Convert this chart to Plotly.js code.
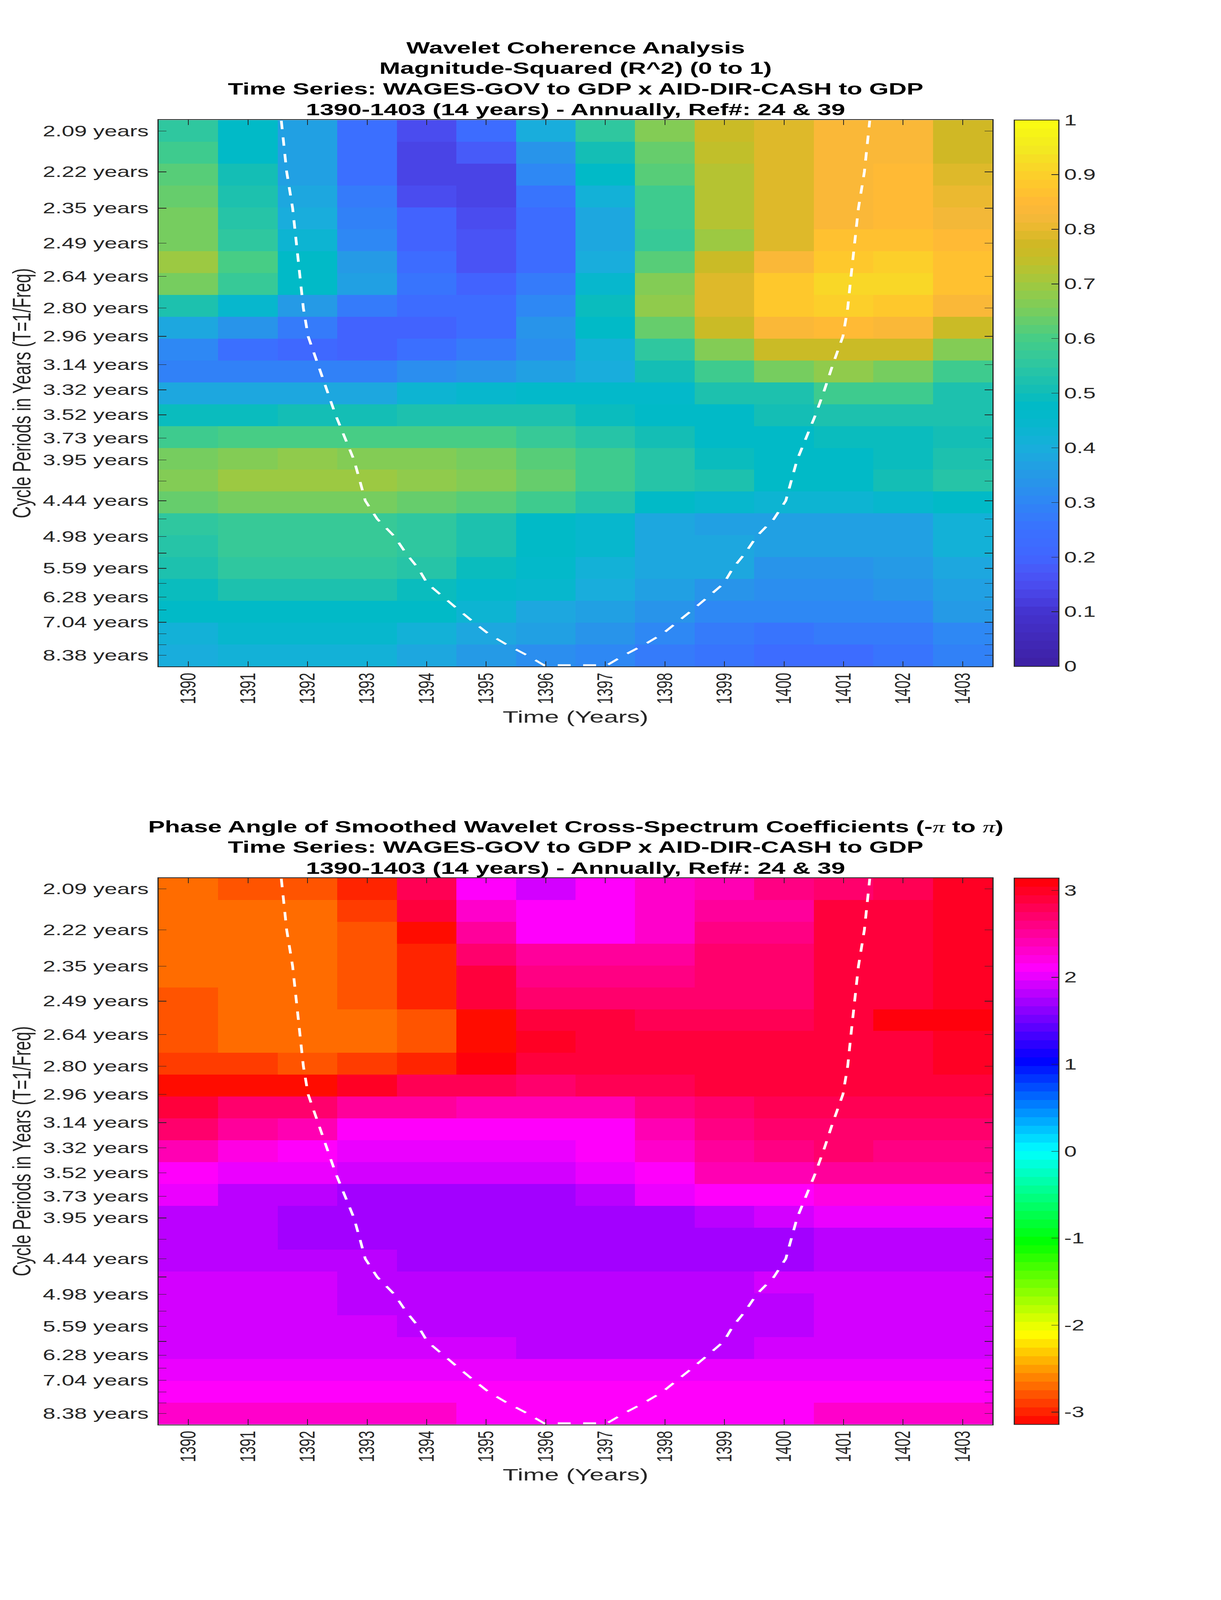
<!DOCTYPE html>
<html>
<head>
<meta charset="utf-8">
<script src="https://cdn.plot.ly/plotly-3.0.1.min.js"></script>
<style>body { margin: 0; background: #fff; overflow: hidden; } #chart { transform-origin: 0 0; }</style>
</head>
<body>
<div id="chart"></div>
<script>
const years = [1390, 1391, 1392, 1393, 1394, 1395, 1396, 1397, 1398, 1399, 1400, 1401, 1402, 1403];

// cycle periods on the y ticks, the axis itself is linear in frequency
const periods = [2.09, 2.22, 2.35, 2.49, 2.64, 2.80, 2.96, 3.14, 3.32, 3.52, 3.73, 3.95, 4.19, 4.44, 4.70, 4.98, 5.28, 5.59, 5.93, 6.28, 6.65, 7.04, 7.46, 7.90, 8.38];
const periodLabels = ['2.09 years', '2.22 years', '2.35 years', '2.49 years', '2.64 years', '2.80 years', '2.96 years', '3.14 years', '3.32 years', '3.52 years', '3.73 years', '3.95 years', '', '4.44 years', '', '4.98 years', '', '5.59 years', '', '6.28 years', '', '7.04 years', '', '', '8.38 years'];

// top row first
const coherence = [
  [.56, .47, .36, .24, .15, .23, .40, .55, .67, .75, .79, .83, .83, .77],
  [.58, .48, .36, .24, .14, .18, .34, .51, .64, .74, .79, .83, .83, .78],
  [.61, .50, .37, .24, .14, .135, .30, .47, .62, .72, .79, .83, .85, .79],
  [.63, .53, .39, .27, .15, .135, .25, .42, .58, .72, .79, .83, .85, .81],
  [.65, .54, .40, .29, .19, .155, .22, .39, .58, .72, .79, .83, .85, .82],
  [.65, .55, .43, .31, .20, .17, .22, .38, .57, .70, .79, .86, .86, .855],
  [.69, .60, .48, .35, .22, .17, .22, .40, .61, .75, .83, .89, .90, .87],
  [.65, .57, .47, .36, .26, .20, .28, .45, .67, .79, .88, .92, .92, .87],
  [.52, .44, .35, .28, .23, .23, .31, .49, .68, .79, .89, .90, .89, .83],
  [.39, .33, .27, .20, .20, .23, .33, .48, .63, .76, .83, .85, .83, .76],
  [.30, .24, .21, .20, .24, .28, .32, .42, .55, .66, .75, .75, .75, .66],
  [.29, .29, .29, .29, .32, .34, .37, .40, .50, .58, .65, .68, .65, .58],
  [.39, .39, .39, .39, .43, .45, .46, .46, .46, .52, .53, .58, .58, .52],
  [.49, .49, .50, .50, .52, .52, .52, .49, .47, .47, .50, .52, .52, .52],
  [.58, .60, .60, .60, .60, .60, .57, .54, .50, .47, .47, .49, .49, .51],
  [.65, .67, .68, .66, .66, .65, .62, .58, .54, .49, .48, .47, .49, .52],
  [.67, .69, .70, .70, .68, .66, .63, .58, .54, .52, .47, .47, .50, .54],
  [.63, .65, .65, .65, .63, .61, .58, .54, .48, .45, .43, .43, .45, .48],
  [.55, .57, .57, .57, .55, .52, .48, .44, .38, .36, .36, .36, .37, .42],
  [.54, .57, .57, .57, .55, .52, .48, .44, .39, .38, .36, .36, .37, .41],
  [.52, .56, .56, .56, .54, .49, .46, .41, .39, .38, .34, .34, .35, .39],
  [.49, .52, .52, .52, .49, .46, .45, .40, .37, .34, .32, .32, .33, .37],
  [.47, .48, .48, .48, .47, .43, .39, .36, .33, .31, .31, .30, .30, .35],
  [.41, .45, .45, .45, .41, .39, .37, .33, .30, .28, .26, .27, .28, .31],
  [.40, .42, .42, .41, .39, .35, .32, .30, .27, .25, .23, .23, .25, .29]
];

const phase = [
  [-2.72, -2.83, -2.83, -3.03, 2.80, 2.09, 1.92, 2.09, 2.28, 2.42, 2.60, 2.74, 2.82, 3.00],
  [-2.72, -2.72, -2.72, -2.93, 2.92, 2.35, 2.09, 2.09, 2.35, 2.48, 2.55, 2.88, 2.92, 3.00],
  [-2.72, -2.72, -2.72, -2.83, -3.13, 2.55, 2.09, 2.09, 2.28, 2.60, 2.62, 2.88, 2.92, 3.00],
  [-2.72, -2.72, -2.72, -2.83, -3.03, 2.74, 2.48, 2.48, 2.50, 2.68, 2.68, 2.88, 2.92, 3.00],
  [-2.72, -2.72, -2.72, -2.83, -3.03, 2.88, 2.60, 2.60, 2.62, 2.74, 2.74, 2.88, 2.92, 3.00],
  [-2.83, -2.72, -2.72, -2.83, -3.03, 2.88, 2.72, 2.68, 2.68, 2.74, 2.74, 2.88, 2.92, 3.00],
  [-2.83, -2.72, -2.72, -2.72, -2.83, -3.13, 2.88, 2.86, 2.84, 2.84, 2.84, 2.90, 3.06, 3.06],
  [-2.83, -2.72, -2.72, -2.72, -2.83, -3.13, 3.00, 2.94, 2.94, 2.94, 2.88, 2.90, 2.92, 3.03],
  [-2.93, -2.93, -2.83, -2.93, -3.03, 3.08, 2.90, 2.90, 2.90, 2.94, 2.92, 2.92, 2.92, 3.03],
  [-3.13, -3.13, -3.13, 2.97, 2.82, 2.78, 2.74, 2.78, 2.82, 2.88, 2.92, 2.92, 2.92, 2.92],
  [2.88, 2.72, 2.72, 2.48, 2.46, 2.40, 2.42, 2.42, 2.60, 2.66, 2.78, 2.84, 2.84, 2.84],
  [2.68, 2.50, 2.42, 2.14, 2.10, 2.09, 2.10, 2.12, 2.42, 2.60, 2.66, 2.74, 2.74, 2.74],
  [2.42, 2.17, 2.10, 1.97, 1.97, 1.97, 1.97, 2.09, 2.28, 2.50, 2.62, 2.68, 2.62, 2.60],
  [2.09, 1.97, 1.97, 1.88, 1.88, 1.88, 1.88, 1.97, 2.09, 2.40, 2.45, 2.50, 2.50, 2.50],
  [1.97, 1.86, 1.86, 1.76, 1.76, 1.76, 1.76, 1.84, 1.97, 2.14, 2.14, 2.20, 2.20, 2.20],
  [1.84, 1.84, 1.76, 1.76, 1.76, 1.76, 1.76, 1.76, 1.76, 1.82, 1.92, 1.97, 1.97, 1.97],
  [1.84, 1.84, 1.76, 1.76, 1.76, 1.76, 1.76, 1.76, 1.76, 1.76, 1.76, 1.86, 1.86, 1.86],
  [1.84, 1.84, 1.84, 1.84, 1.74, 1.74, 1.74, 1.74, 1.74, 1.74, 1.74, 1.86, 1.86, 1.86],
  [1.92, 1.92, 1.92, 1.85, 1.85, 1.85, 1.85, 1.85, 1.85, 1.85, 1.92, 1.92, 1.92, 1.92],
  [1.92, 1.92, 1.92, 1.85, 1.85, 1.85, 1.85, 1.85, 1.85, 1.85, 1.85, 1.92, 1.92, 1.92],
  [1.92, 1.92, 1.92, 1.92, 1.85, 1.85, 1.85, 1.85, 1.85, 1.85, 1.85, 1.92, 1.92, 1.92],
  [1.94, 1.94, 1.94, 1.94, 1.94, 1.94, 1.85, 1.85, 1.85, 1.85, 1.94, 1.94, 1.94, 1.94],
  [2.06, 2.06, 1.97, 1.97, 1.97, 1.97, 1.97, 1.97, 1.97, 1.97, 1.97, 1.97, 2.06, 2.06],
  [2.09, 2.09, 2.09, 2.09, 2.09, 2.09, 2.09, 2.09, 2.09, 2.09, 2.09, 2.09, 2.09, 2.12],
  [2.30, 2.30, 2.30, 2.30, 2.30, 2.14, 2.14, 2.14, 2.14, 2.14, 2.14, 2.27, 2.27, 2.27]
];

// cone of influence, period and year of each vertex
const coiPeriods = [2.06, 2.09, 2.22, 2.35, 2.49, 2.64, 2.80, 2.96, 3.14, 3.32, 3.52, 3.73, 3.95, 4.19, 4.44, 4.70, 4.98, 5.28, 5.59, 5.93, 6.28, 6.65, 7.04, 7.46, 7.90, 8.38, 8.88,
  8.88, 8.38, 7.90, 7.46, 7.04, 6.65, 6.28, 5.93, 5.59, 5.28, 4.98, 4.70, 4.44, 4.19, 3.95, 3.73, 3.52, 3.32, 3.14, 2.96, 2.80, 2.64, 2.49, 2.35, 2.22, 2.09, 2.06];
const coiYears = [1391.56, 1391.58, 1391.65, 1391.75, 1391.81, 1391.875, 1391.93, 1392.01, 1392.18, 1392.32, 1392.47, 1392.63, 1392.78, 1392.88, 1392.97, 1393.17, 1393.46, 1393.65, 1393.86, 1394.01, 1394.28, 1394.54, 1394.79, 1395.04, 1395.35, 1395.69, 1395.97,
  1397.03, 1397.31, 1397.65, 1397.96, 1398.21, 1398.46, 1398.72, 1398.99, 1399.14, 1399.35, 1399.54, 1399.83, 1400.03, 1400.12, 1400.22, 1400.37, 1400.53, 1400.68, 1400.82, 1400.99, 1401.07, 1401.125, 1401.19, 1401.25, 1401.35, 1401.42, 1401.44];

const piSym = '<span style="font-family:\'Liberation Serif\';font-style:italic;font-weight:normal">π</span>';
const titleLines1 = ['Wavelet Coherence Analysis', 'Magnitude-Squared (R^2) (0 to 1)', 'Time Series: WAGES-GOV to GDP x AID-DIR-CASH to GDP', '1390-1403 (14 years) - Annually, Ref#: 24 &amp; 39'];
const titleLines2 = ['Phase Angle of Smoothed Wavelet Cross-Spectrum Coefficients (-' + piSym + ' to ' + piSym + ')', 'Time Series: WAGES-GOV to GDP x AID-DIR-CASH to GDP', '1390-1403 (14 years) - Annually, Ref#: 24 &amp; 39'];

const W = 3125, H = 6252;
const plotLeft = 406, plotRight = 2540, plotHeight = 2135, barLeft = 2596, barWidth = 114;
const top1 = 469, top2 = 3431;
const freqTop = 0.48594, freqBottom = 0.11178;
const textColor = '#262626', fontName = '"Liberation Sans", Arial, sans-serif';

const rowFreq = periods.map((p, i) => freqTop - (i + 0.5) * (freqTop - freqBottom) / periods.length);
const tickFreq = periods.map(p => 1 / p);
const coiFreq = coiPeriods.map(p => 1 / p);

// colour stops
const coherenceStops = [
  [0, '#3e1fa3'], [.1, '#4433cf'], [.125, '#4840e2'], [.15, '#4a4df0'], [.175, '#4858f8'], [.2, '#4166ff'], [.25, '#3a71ff'], [.3, '#2f86f5'], [.35, '#2599e6'],
  [.4, '#19aedc'], [.45, '#05b8cb'], [.475, '#00bac8'], [.5, '#0fbdb9'], [.55, '#2dc6a2'], [.6, '#45cd86'],
  [.65, '#78cd5e'], [.7, '#a0c93f'], [.75, '#c7bd26'], [.775, '#d1b825'], [.8, '#e8b92e'], [.825, '#f6b83a'],
  [.85, '#ffb936'], [.875, '#ffc42d'], [.9, '#fcd02a'], [.95, '#f2ea20'], [1, '#fafd10']
];

function hexToRgb(hex) {
  return [1, 3, 5].map(i => parseInt(hex.slice(i, i + 2), 16));
}

function stopColor(t) {
  for (var i = 1; i < coherenceStops.length; i++) {
    if (t <= coherenceStops[i][0]) {
      var a = coherenceStops[i - 1], b = coherenceStops[i];
      var f = (t - a[0]) / (b[0] - a[0]);
      var ca = hexToRgb(a[1]), cb = hexToRgb(b[1]);
      return 'rgb(' + ca.map((v, j) => Math.round(v + (cb[j] - v) * f)).join(',') + ')';
    }
  }
}

function hsvColor(t) {
  var h = t * 6, x = Math.round(255 * (1 - Math.abs(h % 2 - 1)));
  var rgb = [[255, x, 0], [x, 255, 0], [0, 255, x], [0, x, 255], [x, 0, 255], [255, 0, x]][Math.floor(h) % 6];
  return 'rgb(' + rgb.join(',') + ')';
}

// both colormaps have 64 flat levels
function stepped(colorFn) {
  var scale = [];
  for (var k = 0; k < 64; k++) {
    var c = colorFn((k + 0.5) / 64);
    scale.push([k / 64, c], [(k + 1) / 64, c]);
  }
  return scale;
}

function colorbar(top, extra) {
  return Object.assign({
    x: barLeft / W, xanchor: 'left', xpad: 0, ypad: 0,
    y: 1 - top / H, yanchor: 'top',
    len: plotHeight, lenmode: 'pixels', thickness: barWidth, thicknessmode: 'pixels',
    outlinecolor: textColor, outlinewidth: 3, ticks: 'inside', ticklen: 20, tickwidth: 2, tickcolor: textColor,
    tickfont: { family: fontName, size: 58, color: textColor }
  }, extra);
}

function heat(z, xa, ya, zmin, zmax, scale, cb) {
  return { type: 'heatmap', x: years, y: rowFreq, z: z, xaxis: xa, yaxis: ya, zmin: zmin, zmax: zmax, colorscale: scale, colorbar: cb, hoverinfo: 'skip' };
}

function coi(xa, ya) {
  return { type: 'scatter', mode: 'lines', x: coiYears, y: coiFreq, xaxis: xa, yaxis: ya, showlegend: false, hoverinfo: 'skip',
    line: { color: '#fff', width: 7, dash: '33px,32px' } };
}

function xAxis(anchor) {
  return { anchor: anchor, domain: [plotLeft / W, plotRight / W], range: [1389.5, 1403.5], tickmode: 'array', tickvals: years, ticktext: years.map(String),
    tickangle: -90, ticks: 'inside', ticklen: 20, tickwidth: 2, tickcolor: textColor, ticklabelstandoff: 0, mirror: 'allticks', showline: true, linecolor: textColor, linewidth: 3, showgrid: false, zeroline: false,
    tickfont: { family: fontName, size: 55, color: textColor },
    title: { text: 'Time (Years)', font: { family: fontName, size: 66, color: textColor }, standoff: 27 } };
}

function yAxis(anchor, top) {
  return { anchor: anchor, domain: [1 - (top + plotHeight) / H, 1 - top / H], range: [freqBottom, freqTop], tickmode: 'array', tickvals: tickFreq, ticktext: periodLabels,
    ticks: 'inside', ticklen: 20, tickwidth: 2, tickcolor: textColor, ticklabelstandoff: 11, mirror: 'allticks', showline: true, linecolor: textColor, linewidth: 3, showgrid: false, zeroline: false,
    tickfont: { family: fontName, size: 58, color: textColor },
    title: { text: 'Cycle Periods in Years (T=1/Freq)', font: { family: fontName, size: 65, color: textColor }, standoff: 10 } };
}

function titleNote(text, centerPx) {
  return { text: '<b>' + text + '</b>', xref: 'paper', yref: 'paper', x: (plotLeft + plotRight) / 2 / W, y: 1 - centerPx / H, xanchor: 'center', yanchor: 'middle', showarrow: false, align: 'center',
    font: { family: fontName, size: 64, color: '#000' } };
}

const data = [
  heat(coherence, 'x', 'y', 0, 1, stepped(stopColor), colorbar(top1, { tickmode: 'array', tickvals: [0, .1, .2, .3, .4, .5, .6, .7, .8, .9, 1], ticktext: ['0', '0.1', '0.2', '0.3', '0.4', '0.5', '0.6', '0.7', '0.8', '0.9', '1'] })),
  coi('x', 'y'),
  heat(phase, 'x2', 'y2', -Math.PI, Math.PI, stepped(hsvColor), colorbar(top2, { tickmode: 'array', tickvals: [-3, -2, -1, 0, 1, 2, 3], ticktext: ['-3', '-2', '-1', '0', '1', '2', '3'] })),
  coi('x2', 'y2')
];

const title1Centers = [187, 267, 347, 428];
const title2Centers = [3230, 3310, 3392];

const layout = {
  width: W, height: H, margin: { l: 0, r: 0, t: 0, b: 0 }, paper_bgcolor: '#fff', plot_bgcolor: '#fff', showlegend: false,
  xaxis: xAxis('y'), yaxis: yAxis('x', top1),
  xaxis2: xAxis('y2'), yaxis2: yAxis('x2', top2),
  annotations: titleLines1.map((t, i) => titleNote(t, title1Centers[i])).concat(titleLines2.map((t, i) => titleNote(t, title2Centers[i])))
};

window.addEventListener('load', (event) => {
  Plotly.newPlot('chart', data, layout, { displayModeBar: false }).then(() => {
    // the window can be shorter than the figure, squeeze the height so all of it stays on the page
    var fit = Math.min(1, window.innerHeight / H);
    document.getElementById('chart').style.transform = 'scale(1,' + fit + ')';
  });
});
</script>
</body>
</html>
